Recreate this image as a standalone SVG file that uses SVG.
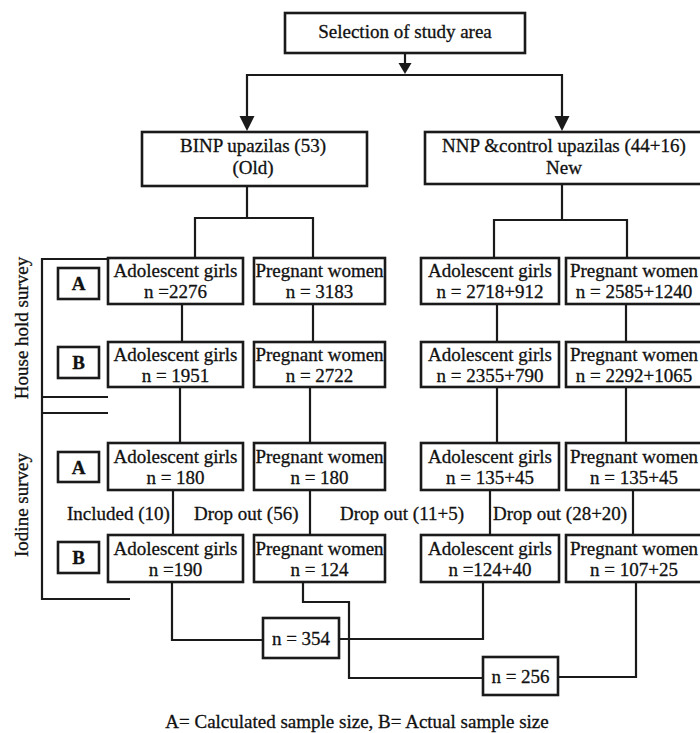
<svg xmlns="http://www.w3.org/2000/svg" width="700" height="733" viewBox="0 0 700 733">
<style>
  .box { fill: #fff; stroke: #1a1a1a; stroke-width: 2.6; }
  .ln { fill: none; stroke: #1a1a1a; stroke-width: 2.2; stroke-linejoin: miter; }
  .ah { fill: #1a1a1a; stroke: none; }
  text { font-family: "Liberation Serif", "Times New Roman", serif; font-size: 19px; fill: #111; stroke: #111; stroke-width: 0.3; }
  .c { text-anchor: middle; }
  .b { font-weight: bold; }
</style>
<rect width="700" height="733" fill="#fff"/>

<g id="connectors">
  <!-- top -->
  <polyline class="ln" points="405,53 405,64"/>
  <polygon class="ah" points="398.5,63 411.5,63 405,74"/>
  <polyline class="ln" points="247,128 247,75 562,75 562,128"/>
  <polygon class="ah" points="239.5,116 254.5,116 247,131"/>
  <polygon class="ah" points="554.5,116 569.5,116 562,131"/>
  <!-- BINP bracket -->
  <polyline class="ln" points="247,186 247,218"/>
  <polyline class="ln" points="195,258 195,218 313,218 313,258"/>
  <!-- NNP bracket -->
  <polyline class="ln" points="562,184 562,220"/>
  <polyline class="ln" points="494,258 494,220 627,220 627,258"/>
  <!-- row1 -> row2 -->
  <line class="ln" x1="182" y1="304" x2="182" y2="342"/>
  <line class="ln" x1="313" y1="304" x2="313" y2="342"/>
  <line class="ln" x1="497" y1="304" x2="497" y2="342"/>
  <line class="ln" x1="626" y1="304" x2="626" y2="342"/>
  <!-- row2 -> row3 -->
  <line class="ln" x1="180" y1="387" x2="180" y2="443"/>
  <line class="ln" x1="310" y1="387" x2="310" y2="443"/>
  <line class="ln" x1="497" y1="387" x2="497" y2="443"/>
  <line class="ln" x1="626" y1="387" x2="626" y2="443"/>
  <!-- row3 -> row4 -->
  <line class="ln" x1="173" y1="490" x2="173" y2="535"/>
  <line class="ln" x1="310" y1="490" x2="310" y2="535"/>
  <line class="ln" x1="490" y1="490" x2="490" y2="535"/>
  <line class="ln" x1="633" y1="490" x2="633" y2="535"/>
  <!-- totals -->
  <polyline class="ln" points="172,582 172,640 263,640"/>
  <polyline class="ln" points="483,582 483,639 339,639"/>
  <polyline class="ln" points="303,582 303,602 349,602 349,678 483,678"/>
  <polyline class="ln" points="636,582 636,677 558,677"/>
  <!-- survey brackets -->
  <polyline class="ln" points="108,259 42,259 42,599 130,599"/>
  <line class="ln" x1="42" y1="397" x2="108" y2="397"/>
  <line class="ln" x1="42" y1="413" x2="108" y2="413"/>
</g>

<g id="selection">
  <rect class="box" x="285" y="13" width="240" height="40"/>
  <text class="c" x="405" y="38">Selection of study area</text>
</g>

<g id="binp">
  <rect class="box" x="142" y="132" width="225" height="54"/>
  <text class="c" x="253" y="152">BINP upazilas (53)</text>
  <text class="c" x="253" y="174">(Old)</text>
</g>

<g id="nnp">
  <rect class="box" x="425" y="132" width="278" height="52"/>
  <text class="c" x="564" y="152">NNP &amp;control upazilas (44+16)</text>
  <text class="c" x="564" y="174">New</text>
</g>

<g id="survey-labels">
  <text class="c" transform="translate(28,328) rotate(-90)">House hold survey</text>
  <text class="c" transform="translate(28,505) rotate(-90)">Iodine survey</text>
</g>

<g id="label-A1"><rect class="box" x="58" y="268" width="41" height="31"/><text class="c b" x="78.5" y="290">A</text></g>
<g id="label-B1"><rect class="box" x="58" y="347" width="41" height="31"/><text class="c b" x="78.5" y="369">B</text></g>
<g id="label-A2"><rect class="box" x="58" y="452" width="41" height="30"/><text class="c b" x="78.5" y="474">A</text></g>
<g id="label-B2"><rect class="box" x="58" y="542" width="41" height="31"/><text class="c b" x="78.5" y="564">B</text></g>

<!-- Row 1 -->
<g id="hh-a-ag-binp"><rect class="box" x="108" y="258" width="135" height="46"/><text class="c" x="175.5" y="277">Adolescent girls</text><text class="c" x="175.5" y="298">n =2276</text></g>
<g id="hh-a-pw-binp"><rect class="box" x="254" y="258" width="131" height="46"/><text class="c" x="319.5" y="277">Pregnant women</text><text class="c" x="319.5" y="298">n = 3183</text></g>
<g id="hh-a-ag-nnp"><rect class="box" x="421" y="258" width="138" height="46"/><text class="c" x="490" y="277">Adolescent girls</text><text class="c" x="490" y="298">n = 2718+912</text></g>
<g id="hh-a-pw-nnp"><rect class="box" x="566" y="258" width="137" height="46"/><text class="c" x="634" y="277">Pregnant women</text><text class="c" x="634" y="298">n = 2585+1240</text></g>

<!-- Row 2 -->
<g id="hh-b-ag-binp"><rect class="box" x="108" y="342" width="135" height="45"/><text class="c" x="175.5" y="361">Adolescent girls</text><text class="c" x="175.5" y="382">n = 1951</text></g>
<g id="hh-b-pw-binp"><rect class="box" x="254" y="342" width="131" height="45"/><text class="c" x="319.5" y="361">Pregnant women</text><text class="c" x="319.5" y="382">n = 2722</text></g>
<g id="hh-b-ag-nnp"><rect class="box" x="421" y="342" width="138" height="45"/><text class="c" x="490" y="361">Adolescent girls</text><text class="c" x="490" y="382">n = 2355+790</text></g>
<g id="hh-b-pw-nnp"><rect class="box" x="566" y="342" width="137" height="45"/><text class="c" x="634" y="361">Pregnant women</text><text class="c" x="634" y="382">n = 2292+1065</text></g>

<!-- Row 3 -->
<g id="io-a-ag-binp"><rect class="box" x="108" y="443" width="135" height="47"/><text class="c" x="175.5" y="463">Adolescent girls</text><text class="c" x="175.5" y="484">n = 180</text></g>
<g id="io-a-pw-binp"><rect class="box" x="254" y="443" width="131" height="47"/><text class="c" x="319.5" y="463">Pregnant women</text><text class="c" x="319.5" y="484">n = 180</text></g>
<g id="io-a-ag-nnp"><rect class="box" x="421" y="443" width="138" height="47"/><text class="c" x="490" y="463">Adolescent girls</text><text class="c" x="490" y="484">n = 135+45</text></g>
<g id="io-a-pw-nnp"><rect class="box" x="566" y="443" width="137" height="47"/><text class="c" x="634" y="463">Pregnant women</text><text class="c" x="634" y="484">n = 135+45</text></g>

<!-- Drop-out labels -->
<g id="flow-labels">
  <text x="67" y="520">Included (10)</text>
  <text x="194" y="520">Drop out (56)</text>
  <text x="340" y="520">Drop out (11+5)</text>
  <text x="493" y="520">Drop out (28+20)</text>
</g>

<!-- Row 4 -->
<g id="io-b-ag-binp"><rect class="box" x="108" y="535" width="135" height="47"/><text class="c" x="175.5" y="555">Adolescent girls</text><text class="c" x="175.5" y="576">n =190</text></g>
<g id="io-b-pw-binp"><rect class="box" x="254" y="535" width="131" height="47"/><text class="c" x="319.5" y="555">Pregnant women</text><text class="c" x="319.5" y="576">n = 124</text></g>
<g id="io-b-ag-nnp"><rect class="box" x="421" y="535" width="138" height="47"/><text class="c" x="490" y="555">Adolescent girls</text><text class="c" x="490" y="576">n =124+40</text></g>
<g id="io-b-pw-nnp"><rect class="box" x="566" y="535" width="137" height="47"/><text class="c" x="634" y="555">Pregnant women</text><text class="c" x="634" y="576">n = 107+25</text></g>

<!-- Totals -->
<g id="total-ag"><rect class="box" x="263" y="618" width="76" height="40"/><text class="c" x="301" y="645">n = 354</text></g>
<g id="total-pw"><rect class="box" x="483" y="657" width="75" height="38"/><text class="c" x="520.5" y="683">n = 256</text></g>

<g id="caption">
  <text class="c" x="357" y="728">A= Calculated sample size, B= Actual sample size</text>
</g>
</svg>
